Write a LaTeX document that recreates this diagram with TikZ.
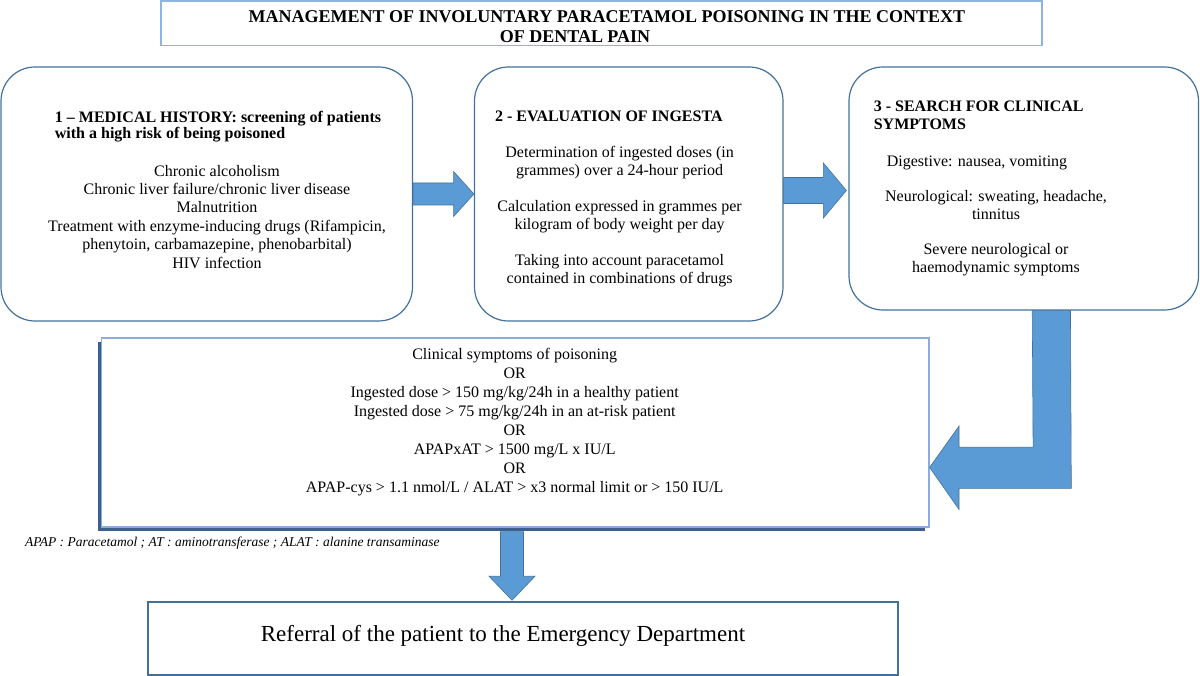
\documentclass[tikz,border=0pt]{standalone}
\usepackage{fontspec}
\setmainfont{Liberation Serif}
\usetikzlibrary{calc,shadows}
\definecolor{boxline}{RGB}{65,113,156}
\definecolor{titleline}{RGB}{141,180,226}
\definecolor{critline}{RGB}{143,170,220}
\definecolor{critshade}{RGB}{60,95,143}
\definecolor{arrowfill}{RGB}{91,155,213}
\begin{document}
\begin{tikzpicture}[x=1pt,y=-1pt,
    stagebox/.style={draw=boxline,line width=1.2pt,rounded corners=34pt,fill=white,inner sep=0pt},
    titlebox/.style={draw=titleline,line width=1.5pt,inner sep=0pt},
    critbox/.style={draw=critline,line width=1.2pt,fill=white,inner sep=0pt,
      drop shadow={shadow xshift=-4pt,shadow yshift=-4pt,fill=critshade,opacity=1}},
    endbox/.style={draw=boxline,line width=1.5pt,inner sep=0pt},
    headtext/.style={inner sep=0pt,align=left,font=\fontsize{16}{16.7}\selectfont\bfseries},
    bodytext/.style={inner sep=0pt,align=center,font=\fontsize{16}{18.4}\selectfont},
    blockarrow/.style={fill=arrowfill,draw=boxline,line width=0.6pt}]
  \useasboundingbox (0,0) rectangle (1200,676);

  % title
  \node[titlebox,minimum width=881pt,minimum height=44.5pt] (title) at (601.5,23.3) {};
  \node[inner sep=0pt,anchor=north,align=center,font=\fontsize{18}{20}\selectfont\bfseries]
    (titletext) at (607,10) {MANAGEMENT OF INVOLUNTARY PARACETAMOL POISONING IN THE CONTEXT\\
    OF DENTAL PAIN\hspace*{64pt}};

  % the three steps
  \node[stagebox,minimum width=411.5pt,minimum height=254pt] (hist) at (206.75,194) {};
  \node[stagebox,minimum width=308.5pt,minimum height=254pt] (ingesta) at (628.75,194) {};
  \node[stagebox,minimum width=349.5pt,minimum height=243pt] (search) at (1023.75,188.5) {};

  \node[headtext,anchor=north west] (histhead) at (54.7,110.7)
    {1 -- MEDICAL HISTORY: screening of patients\\with a high risk of being poisoned};
  \node[bodytext,anchor=north] (histlist) at (217,164.7)
    {Chronic alcoholism\\Chronic liver failure/chronic liver disease\\Malnutrition\\
     Treatment with enzyme-inducing drugs (Rifampicin,\\
     phenytoin, carbamazepine, phenobarbital)\\HIV infection};

  \node[headtext,anchor=base west] (ingestahead) at (494.8,122) {2 - EVALUATION OF INGESTA};
  \node[bodytext,anchor=north,font=\fontsize{16}{18}\selectfont] (ingestalist) at (619.6,146)
    {Determination of ingested doses (in\\grammes) over a 24-hour period\\[18pt]
     Calculation expressed in grammes per\\kilogram of body weight per day\\[18pt]
     Taking into account paracetamol\\contained in combinations of drugs};

  \node[headtext,anchor=north west,font=\fontsize{16}{18.3}\selectfont\bfseries] (searchhead)
    at (873.6,100.7) {3 - SEARCH FOR CLINICAL\\SYMPTOMS};
  \node[bodytext,anchor=north,font=\fontsize{16}{18}\selectfont] (searchlist) at (996,155.7)
    {Digestive: nausea, vomiting\hspace*{38pt}\\[17pt]
     Neurological: sweating, headache,\\tinnitus\\[17pt]
     Severe neurological or\\haemodynamic symptoms};

  % criteria and referral
  \node[critbox,minimum width=827.5pt,minimum height=189pt] (crit) at (515.25,432.5) {};
  \node[bodytext,anchor=north,font=\fontsize{16}{19}\selectfont] (crittext) at (514.7,348)
    {Clinical symptoms of poisoning\\OR\\
     Ingested dose > 150 mg/kg/24h in a healthy patient\\
     Ingested dose > 75 mg/kg/24h in an at-risk patient\\OR\\
     APAPxAT > 1500 mg/L x IU/L\\OR\\
     APAP-cys > 1.1 nmol/L / ALAT > x3 normal limit or > 150 IU/L};
  \node[inner sep=0pt,anchor=base west,font=\fontsize{13.5}{15}\selectfont\itshape] (abbrev)
    at (24.9,546.7) {APAP : Paracetamol ; AT : aminotransferase ; ALAT : alanine transaminase};

  \node[endbox,minimum width=750pt,minimum height=73pt] (referral) at (523,638.5) {};
  \node[inner sep=0pt,anchor=base,font=\fontsize{23}{26}\selectfont] (referraltext)
    at (503,641.7) {Referral of the patient to the Emergency Department};

  % block arrows
  \filldraw[blockarrow] ($(hist.east)+(0,-11)$) -- ++(40.5,0) -- ++(0,-11.5) -- (ingesta.west)
    -- ($(hist.east)+(40.5,22.5)$) -- ++(0,-11.5) -- ($(hist.east)+(0,11)$) -- cycle;
  \coordinate (midtip) at ($(search.west)+(-2,2)$);
  \filldraw[blockarrow] ($(ingesta.east |- midtip)+(0,-13)$) -- ($(midtip)+(-23,-13)$)
    -- ($(midtip)+(-23,-27.5)$) -- (midtip) -- ($(midtip)+(-23,27.5)$)
    -- ($(midtip)+(-23,13)$) -- ($(ingesta.east |- midtip)+(0,13)$) -- cycle;
  \coordinate (bendtip) at ($(crit.north east)+(0,130)$);
  \filldraw[blockarrow] ($(search.south)+(8.5,0)$) -- ($(search.south)+(46.7,0)$)
    -- ($(bendtip)+(141.7,21)$) -- ($(bendtip)+(29.4,21)$) -- ($(bendtip)+(29.4,42)$)
    -- (bendtip) -- ($(bendtip)+(29.4,-41.3)$) -- ($(bendtip)+(29.4,-20.3)$)
    -- ($(bendtip)+(103.5,-20.3)$) -- cycle;
  \coordinate (downtip) at ($(referral.north)+(-11,-1)$);
  \filldraw[blockarrow] ($(crit.south -| downtip)+(-11.5,4)$) -- ($(downtip)+(-11.5,-24)$)
    -- ($(downtip)+(-23,-24)$) -- (downtip) -- ($(downtip)+(23,-24)$)
    -- ($(downtip)+(11.5,-24)$) -- ($(crit.south -| downtip)+(11.5,4)$) -- cycle;
\end{tikzpicture}
\end{document}
